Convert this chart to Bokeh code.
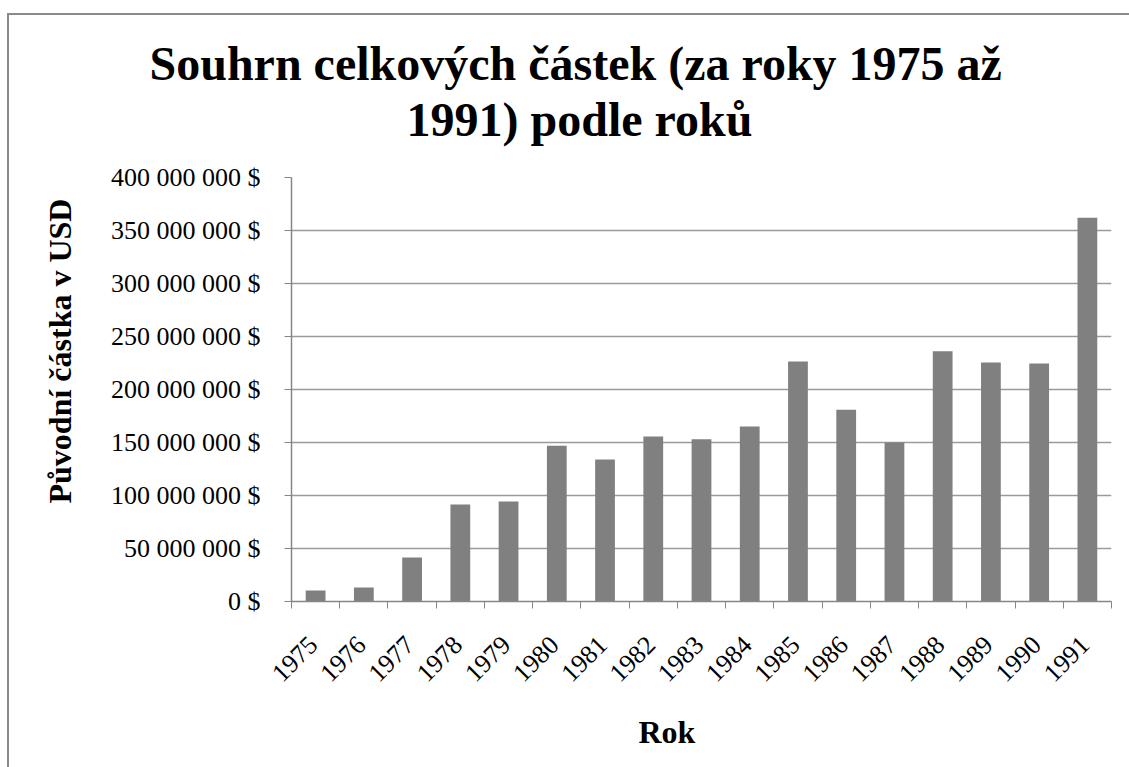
import math
from bokeh.plotting import figure
from bokeh.models import Range1d, LinearAxis, FixedTicker, Grid, Title
from bokeh.embed import file_html
from bokeh.resources import INLINE

# ---- data ----
years = ["1975", "1976", "1977", "1978", "1979", "1980", "1981", "1982", "1983",
         "1984", "1985", "1986", "1987", "1988", "1989", "1990", "1991"]
amounts = [10.4e6, 13.2e6, 41.5e6, 91.5e6, 94.3e6, 147e6, 134e6, 155.7e6, 153e6,
           165e6, 226.5e6, 181e6, 150e6, 236e6, 225.5e6, 224.5e6, 362e6]
y_ticks = [0, 50e6, 100e6, 150e6, 200e6, 250e6, 300e6, 350e6, 400e6]
title_lines = ["Souhrn celkových částek (za roky 1975 až", "1991) podle roků"]
y_title = "Původní částka v USD"
x_title = "Rok"

SERIF = "Liberation Serif"
GRAY = "#808080"
AXIS = "#868686"

n = len(years)
centers = [i + 0.5 for i in range(n)]       # category slot centres
bounds = list(range(n + 1))                   # category slot boundaries
label_pos = [c - 0.05 for c in centers]       # anchor of the rotated year labels

W, H = 1122, 754
p = figure(width=W, height=H,
           x_range=Range1d(0, n), y_range=Range1d(0, 400e6),
           output_backend="svg", toolbar_location=None,
           x_axis_location=None, y_axis_location=None,
           min_border_left=280, min_border_right=W - 280 - 822,
           min_border_top=162, min_border_bottom=H - 162 - 424)
p.outline_line_color = None
p.background_fill_color = "white"
p.border_fill_color = "white"
p.styles = {"border-left": "2px solid #8a8a8a", "border-top": "2px solid #8a8a8a",
            "margin-left": "7px", "margin-top": "13px"}
p.center = []

p.vbar(x=centers, top=amounts, width=0.41, fill_color=GRAY, line_color=None)

# y axis
yax = LinearAxis(ticker=FixedTicker(ticks=y_ticks))
yax.major_label_overrides = {t: f"{int(t):,}".replace(",", " ") + " $" for t in y_ticks}
yax.major_label_text_font = SERIF
yax.major_label_text_font_size = "26px"
yax.major_label_text_color = "black"
yax.major_label_standoff = 24
yax.axis_line_color = AXIS
yax.axis_line_width = 1.5
yax.major_tick_line_color = AXIS
yax.major_tick_in = 0
yax.major_tick_out = 7
yax.minor_tick_line_color = None
p.add_layout(yax, "left")

# horizontal grid
grid = Grid(dimension=1, ticker=yax.ticker, grid_line_color="#9a9a9a", grid_line_width=1.5)
p.add_layout(grid)

# x axis: tick marks at category boundaries
bax = LinearAxis(ticker=FixedTicker(ticks=bounds))
bax.major_label_overrides = {i: "" for i in bounds}
bax.major_label_text_font_size = "1px"
bax.major_label_standoff = 0
bax.axis_line_color = AXIS
bax.axis_line_width = 1.5
bax.major_tick_line_color = AXIS
bax.major_tick_in = 0
bax.major_tick_out = 7
bax.minor_tick_line_color = None
p.add_layout(bax, "below")

# x axis: year labels at category centres
cax = LinearAxis(ticker=FixedTicker(ticks=label_pos))
cax.major_label_overrides = {c: y for c, y in zip(label_pos, years)}
cax.axis_line_color = None
cax.major_tick_line_color = None
cax.major_tick_in = 0
cax.major_tick_out = 0
cax.minor_tick_line_color = None
cax.minor_tick_out = 0
cax.major_label_orientation = math.pi / 4
cax.major_label_text_font = SERIF
cax.major_label_text_font_size = "26px"
cax.major_label_text_color = "black"
cax.major_label_standoff = 32
p.add_layout(cax, "below")

def ttl(text, size, offset, standoff):
    return Title(text=text, align="left", offset=offset, standoff=standoff,
                 text_font=SERIF, text_font_style="bold", text_font_size=size,
                 text_color="black")

# chart title: two lines, second line nearest to the plot
p.add_layout(ttl(title_lines[1], "48px", 115, 64), "above")
p.add_layout(ttl(title_lines[0], "48px", -142, -62), "above")
# axis titles
p.add_layout(ttl(y_title, "32px", 98, 60), "left")
p.add_layout(ttl(x_title, "32px", 347, 38), "below")

open("out.html", "w").write(file_html(p, INLINE))
